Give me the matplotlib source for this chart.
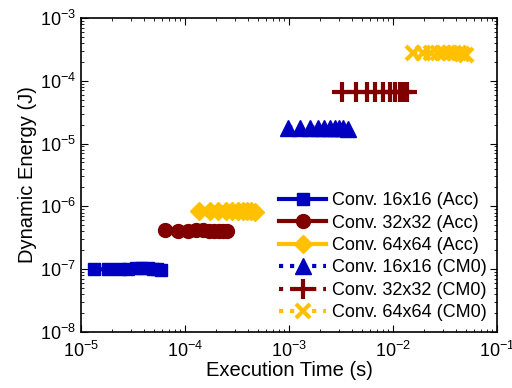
import matplotlib
matplotlib.use('Agg')
import matplotlib.pyplot as plt
import numpy as np

plt.rcParams['font.family'] = ['Liberation Sans', 'DejaVu Sans']

blue = '#0000c0'
red = '#800000'
yellow = '#ffc000'

# execution time (s) and dynamic energy (J)
t_acc16 = [1.33e-5, 1.84e-5, 2.35e-5, 2.86e-5, 3.37e-5, 3.88e-5, 4.39e-5, 4.90e-5, 5.41e-5, 5.92e-5]
e_acc16 = [1.00e-7, 1.00e-7, 1.01e-7, 1.02e-7, 1.04e-7, 1.05e-7, 1.04e-7, 1.02e-7, 1.00e-7, 0.97e-7]

t_acc32 = [6.4e-5, 8.5e-5, 1.06e-4, 1.27e-4, 1.48e-4, 1.69e-4, 1.90e-4, 2.11e-4, 2.32e-4, 2.54e-4]
e_acc32 = [4.2e-7, 4.1e-7, 4.1e-7, 4.15e-7, 4.15e-7, 4.1e-7, 4.1e-7, 4.1e-7, 4.1e-7, 4.0e-7]

t_acc64 = [1.36e-4, 1.73e-4, 2.10e-4, 2.47e-4, 2.84e-4, 3.21e-4, 3.58e-4, 3.95e-4, 4.32e-4, 4.70e-4]
e_acc64 = [8.6e-7, 8.6e-7, 8.6e-7, 8.6e-7, 8.6e-7, 8.6e-7, 8.6e-7, 8.5e-7, 8.4e-7, 8.1e-7]

t_cm16 = [9.8e-4, 1.28e-3, 1.59e-3, 1.89e-3, 2.19e-3, 2.48e-3, 2.77e-3, 3.05e-3, 3.33e-3, 3.72e-3]
e_cm16 = [1.8e-5, 1.8e-5, 1.8e-5, 1.8e-5, 1.8e-5, 1.8e-5, 1.8e-5, 1.8e-5, 1.78e-5, 1.72e-5]

t_cm32 = [3.21e-3, 4.41e-3, 5.58e-3, 6.71e-3, 8.07e-3, 9.35e-3, 1.045e-2, 1.167e-2, 1.256e-2, 1.355e-2]
e_cm32 = [6.6e-5, 6.6e-5, 6.6e-5, 6.6e-5, 6.6e-5, 6.6e-5, 6.6e-5, 6.6e-5, 6.6e-5, 6.5e-5]

t_cm64 = [1.56e-2, 1.95e-2, 2.33e-2, 2.72e-2, 3.10e-2, 3.49e-2, 3.87e-2, 4.26e-2, 4.64e-2, 5.03e-2]
e_cm64 = [2.75e-4, 2.75e-4, 2.75e-4, 2.75e-4, 2.75e-4, 2.75e-4, 2.75e-4, 2.75e-4, 2.7e-4, 2.6e-4]

fig = plt.figure(figsize=(5.12, 3.88), dpi=100)
ax = fig.add_axes([0.158, 0.144, 0.813, 0.81])

ax.plot(t_acc16, e_acc16, '-', color=blue, lw=3, marker='s', ms=9, label='Conv. 16x16 (Acc)')
ax.plot(t_acc32, e_acc32, '-', color=red, lw=3, marker='o', ms=10, label='Conv. 32x32 (Acc)')
ax.plot(t_acc64, e_acc64, '-', color=yellow, lw=3, marker='D', ms=9, label='Conv. 64x64 (Acc)')
ax.plot(t_cm16, e_cm16, ':', color=blue, lw=3, marker='^', ms=11, label='Conv. 16x16 (CM0)')
ax.plot(t_cm32, e_cm32, ':', color=red, lw=3, marker='+', ms=14, mew=3, label='Conv. 32x32 (CM0)')
ax.plot(t_cm64, e_cm64, ':', color=yellow, lw=3, marker='x', ms=10, mew=3, label='Conv. 64x64 (CM0)')

ax.set_xscale('log')
ax.set_yscale('log')
ax.set_xlim(1e-5, 1e-1)
ax.set_ylim(1e-8, 1e-3)

ax.tick_params(which='both', direction='in', top=True, right=True, labelsize=13)
ax.tick_params(which='major', length=5)
ax.tick_params(which='minor', length=2.5)
ax.tick_params(axis='x', pad=6)
for s in ax.spines.values():
    s.set_linewidth(1.2)

ax.set_xlabel('Execution Time (s)', fontsize=14.5, labelpad=0)
ax.set_ylabel('Dynamic Energy (J)', fontsize=14.5, labelpad=2)

ax.legend(loc='lower right', frameon=False, fontsize=13, handlelength=2.6,
          labelspacing=0.3, handletextpad=0.3, borderaxespad=0.2)

fig.savefig('out.png', dpi=100)
